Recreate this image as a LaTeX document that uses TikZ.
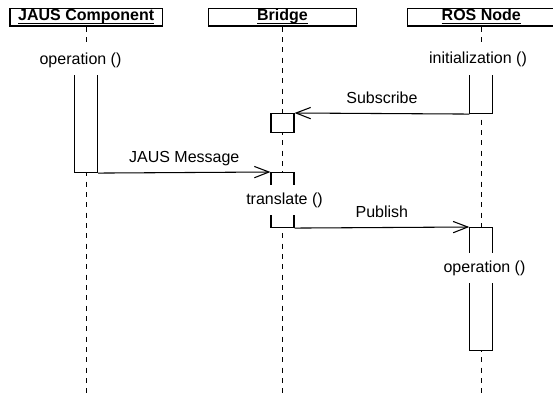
\documentclass[tikz,border=0pt]{standalone}
\usepackage{fontspec}
\setmainfont{Liberation Sans}
\usetikzlibrary{positioning,arrows.meta}

\newlength\headwd
\newcommand{\headul}[1]{\settowidth{\headwd}{#1}\rlap{\rule[-2.2pt]{\headwd}{0.8pt}}#1}

\tikzset{
  lifehead/.style={rectangle,draw,line width=0.9pt,fill=white,
    font=\fontsize{12}{14}\selectfont\bfseries,minimum height=13.3pt,inner sep=0pt,
    text height=9.3pt,text depth=4pt},
  lifeline/.style={dash pattern=on 3.75pt off 4pt,line width=0.8pt},
  actbar/.style={rectangle,draw,line width=0.8pt,fill=white,
    minimum width=17.25pt,inner sep=0pt,anchor=north},
  calltext/.style={fill=white,minimum height=22.5pt,inner xsep=1pt,inner ysep=0pt},
  msg/.style={line width=0.8pt,-{Straight Barb[length=11pt,width=8.5pt]}},
  msgtext/.style={midway,yshift=11.5pt,inner sep=0pt,text height=8.6pt,text depth=0pt}
}

\begin{document}
\begin{tikzpicture}[x=0.75pt,y=-0.75pt,every node/.style={font=\fontsize{12}{14}\selectfont}]
\useasboundingbox (0,0) rectangle (553,396);
\coordinate (floor) at (0,393);

% objects
\node[lifehead,minimum width=114.2pt] (jaus) at (86.2,17.2) {\headul{JAUS Component}};
\node[lifehead,minimum width=111.3pt] (bridge) at (282.5,17.2) {\headul{Bridge}};
\node[lifehead,minimum width=111pt] (ros) at (481.3,17.2) {\headul{ROS Node}};

\draw[lifeline] (jaus.south) -- (jaus.south |- floor);
\draw[lifeline] (bridge.south) -- (bridge.south |- floor);
\draw[lifeline] (ros.south) -- (ros.south |- floor);

% activations
\node[actbar,minimum height=95.25pt] (jausbar) at (86,45) {};
\node[actbar,minimum height=51pt] (rosbar) at (481.3,45) {};
\node[actbar,minimum height=14.25pt] (subbox) at (282.5,113) {};
\node[actbar,minimum height=41.25pt] (bridgebar) at (282.5,172) {};
\node[actbar,minimum height=92.25pt] (opbar) at (481.3,227) {};

\node[calltext] (jausop) at (80.5,60) {operation ()};
\node[calltext] (rosinit) at (478,59.5) {initialization ()};
\node[calltext] (transl) at (284.5,200) {translate ()};
\node[calltext] (rosop) at (484.5,268) {operation ()};

% messages
\draw[msg] (rosbar.south west) -- node[msgtext] (subscribe) {Subscribe} (subbox.north east);
\draw[msg] (jausbar.south east) -- node[msgtext] (jausmsg) {JAUS Message} (bridgebar.north west);
\draw[msg] (bridgebar.south east) -- node[msgtext] (publish) {Publish} (opbar.north west);
\end{tikzpicture}
\end{document}
